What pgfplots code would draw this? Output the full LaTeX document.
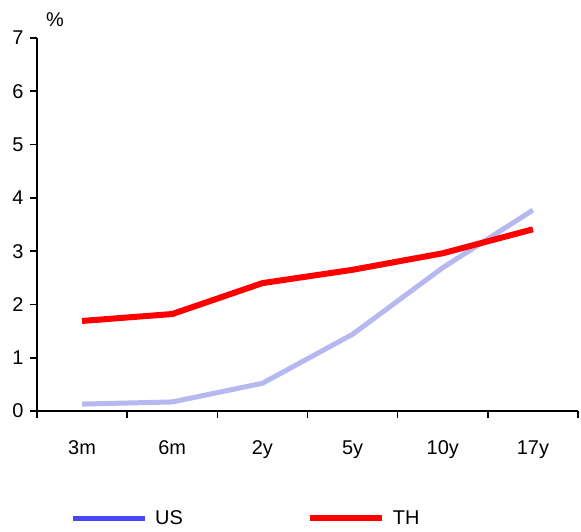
\documentclass[border=0pt]{standalone}
\usepackage{fontspec}
\setmainfont{Liberation Sans}
\usepackage{pgfplots}
\pgfplotsset{compat=1.18}
\usetikzlibrary{calc}
\definecolor{uscol}{RGB}{184,184,240}
\definecolor{uslegend}{RGB}{70,70,245}
\newcommand{\chartfont}{\fontsize{20}{23}\selectfont}
\begin{document}
\begin{tikzpicture}
\begin{axis}[
  name=ax,
  scale only axis,
  width=541bp, height=373bp,
  xmin=-0.5, xmax=5.5,
  ymin=0, ymax=7,
  axis x line*=bottom,
  axis y line*=left,
  axis line style={line width=1.6bp, black},
  xtick={0,1,2,3,4,5},
  xticklabels={3m,6m,2y,5y,10y,17y},
  minor xtick={-0.5,0.5,1.5,2.5,3.5,4.5,5.5},
  major x tick style={draw=none},
  minor x tick style={line width=1.6bp, black},
  minor tick length=7bp,
  ytick={0,1,...,7},
  y tick style={line width=1.6bp, black},
  major tick length=7bp,
  tick align=outside,
  tick label style={font=\chartfont},
  xticklabel style={yshift=-19bp},
  yticklabel style={xshift=-3bp},
  /pgf/number format/assume math mode=true,
  clip=false,
  legend columns=2,
  legend style={
    draw=none, fill=none,
    at={(30bp,-107bp)}, anchor=west,
    font=\chartfont,
    /tikz/every odd column/.append style={column sep=6bp},
    /tikz/every even column/.append style={column sep=122bp},
  },
  legend image code/.code={\draw[#1] (0bp,0bp) -- (72bp,0bp);},
]
\addplot[uscol, line width=5bp, forget plot] coordinates {
  (0,0.13) (1,0.17) (2,0.52) (3,1.44) (4,2.69) (5,3.77)
};
\addplot[red, line width=6bp, forget plot] coordinates {
  (0,1.69) (1,1.82) (2,2.40) (3,2.65) (4,2.96) (5,3.41)
};
\addlegendimage{uslegend, line width=5bp}
\addlegendentry{US}
\addlegendimage{red, line width=6bp}
\addlegendentry{TH}
\node[anchor=center, font=\chartfont] at ($(rel axis cs:0,1)+(18bp,18bp)$) {\%};
\end{axis}
\pgfresetboundingbox
\path[use as bounding box] ($(ax.south west)+(-37bp,-121bp)$) rectangle ($(ax.north east)+(3bp,38bp)$);
\end{tikzpicture}
\end{document}
